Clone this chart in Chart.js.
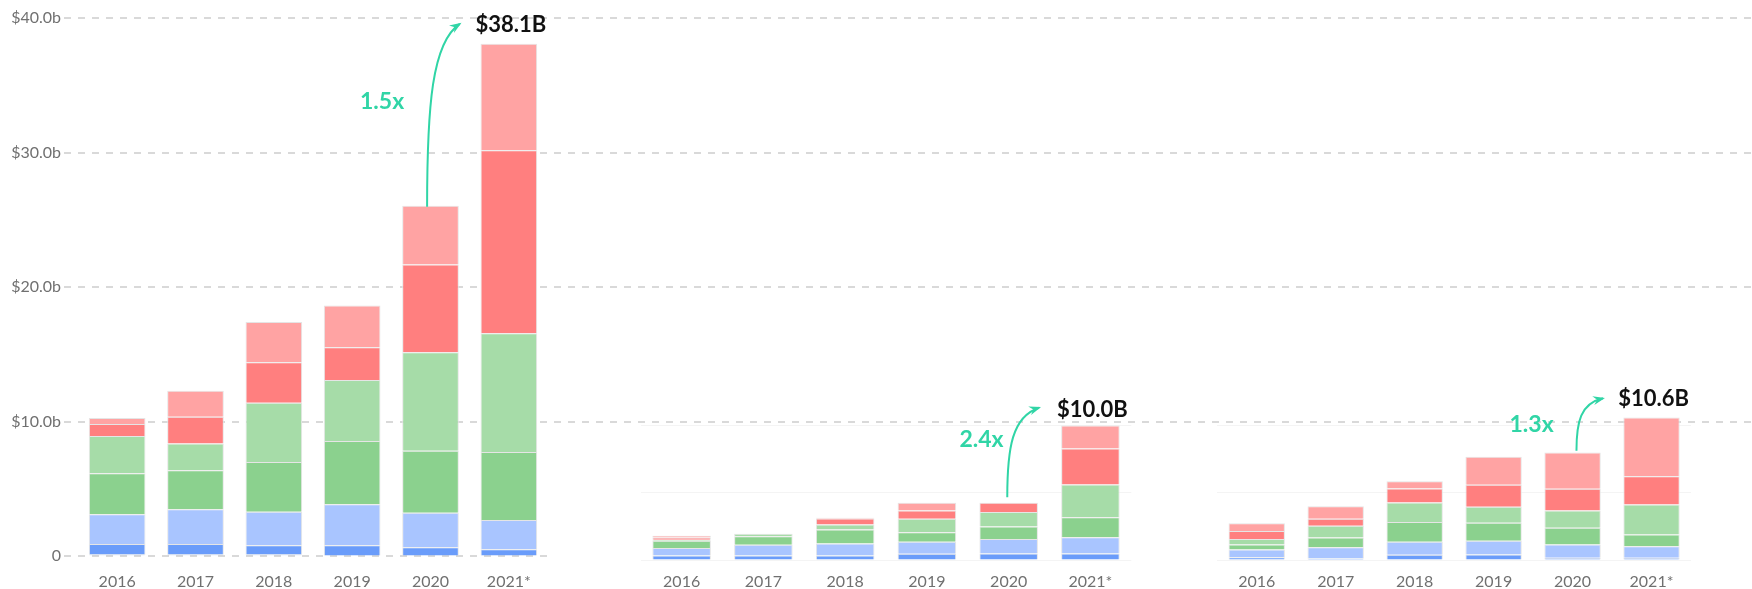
<!DOCTYPE html>
<html><head><meta charset="utf-8">
<script src="https://cdn.jsdelivr.net/npm/chart.js@4.4.0/dist/chart.umd.min.js"></script>
<style>
html,body{margin:0;padding:0;background:#fff;overflow:hidden;width:1752px;height:589px;}
#wrap{position:relative;width:1752px;height:589px;}
canvas{position:absolute;top:0;}
</style></head><body>
<div id="wrap">
<canvas id="cLeft" width="1752" height="589" style="left:0px"></canvas>
<canvas id="cMid" width="600" height="589" style="left:560px"></canvas>
<canvas id="cRight" width="592" height="589" style="left:1160px"></canvas>
</div>
<script>
// ---------- data ----------
const categories = ['2016', '2017', '2018', '2019', '2020', '2021*'];
const yTickValues = [0, 10, 20, 30, 40];
const yTickLabels = ['0', '$10.0b', '$20.0b', '$30.0b', '$40.0b'];
const totalLabels = ['$38.1B', '$10.0B', '$10.6B'];
const growthLabels = ['1.5x', '2.4x', '1.3x'];

// left panel (bottom -> top)
const left1 = [0.14, 0.14, 0.14, 0.05, 0.05, 0.05];
const left2 = [0.77, 0.77, 0.67, 0.76, 0.61, 0.46];
const left3 = [2.21, 2.58, 2.50, 3.05, 2.57, 2.18];
const left4 = [3.04, 2.90, 3.69, 4.71, 4.61, 5.06];
const left5 = [2.78, 2.00, 4.41, 4.53, 7.32, 8.82];
const left6 = [0.89, 1.98, 3.01, 2.43, 6.54, 13.61];
const left7 = [0.45, 1.93, 2.99, 3.12, 4.36, 7.92];

// middle panel
const mid1 = [0, 0, 0, 0, 0, 0];
const mid2 = [0.33, 0.33, 0.33, 0.46, 0.48, 0.48];
const mid3 = [0.57, 0.80, 0.90, 0.89, 1.08, 1.22];
const mid4 = [0.54, 0.64, 1.04, 0.72, 0.93, 1.48];
const mid5 = [0.07, 0.18, 0.37, 0.99, 1.08, 2.43];
const mid6 = [0.17, 0.00, 0.45, 0.62, 0.68, 2.68];
const mid7 = [0.13, 0.00, 0.05, 0.57, 0.00, 1.71];

// right panel
const right1 = [0, 0, 0, 0, 0, 0];
const right2 = [0.20, 0.11, 0.39, 0.41, 0.16, 0.16];
const right3 = [0.58, 0.84, 0.97, 1.02, 0.99, 0.87];
const right4 = [0.37, 0.72, 1.47, 1.34, 1.24, 0.87];
const right5 = [0.41, 0.87, 1.45, 1.19, 1.29, 2.23];
const right6 = [0.60, 0.52, 1.04, 1.63, 1.61, 2.10];
const right7 = [0.57, 0.94, 0.54, 2.08, 2.70, 4.37];

// ---------- styles ----------
const COLORS = ['#5d8ee8', '#6a9cfa', '#a9c5ff', '#8bd18e', '#a6dca8', '#ff7f7f', '#ffa3a3'];
const TEAL = '#30d5a6';
const GRID = '#d9d9d9';
const FONT = 'Lato, "Open Sans", sans-serif';

function makeDatasets(series, barPct) {
  return series.map((d, k) => ({
    data: d,
    backgroundColor: COLORS[k],
    borderColor: 'rgba(228,228,228,0.95)',
    borderWidth: 1,
    barPercentage: barPct,
    categoryPercentage: 1,
    clip: false
  }));
}
function totalsOf(series) {
  return categories.map((_, i) => series.reduce((s, a) => s + a[i], 0));
}

const extendGrid = {
  id: 'extendGrid',
  beforeDatasetsDraw(chart) {
    const { ctx, chartArea, scales: { y } } = chart;
    ctx.save();
    ctx.strokeStyle = GRID; ctx.lineWidth = 2; ctx.setLineDash([7, 7]);
    ctx.lineDashOffset = (chartArea.right - chartArea.left) % 14;
    y.ticks.forEach(t => {
      if (t.value <= 0) return;
      const py = Math.round(y.getPixelForValue(t.value));
      ctx.beginPath(); ctx.moveTo(chartArea.right, py); ctx.lineTo(chart.width, py); ctx.stroke();
    });
    ctx.restore();
  }
};

const growthNote = {
  id: 'growthNote',
  afterDatasetsDraw(chart, args, o) {
    if (!o || !o.totals) return;
    const { ctx, scales: { x, y } } = chart;
    const n = o.totals.length;
    const x0 = x.getPixelForValue(n - 2), y0 = y.getPixelForValue(o.totals[n - 2]);
    const x1 = x.getPixelForValue(n - 1), y1 = y.getPixelForValue(o.totals[n - 1]);
    ctx.save();
    // total label
    ctx.font = 'bold 22px ' + FONT; ctx.fillStyle = '#111';
    ctx.textAlign = 'center'; ctx.textBaseline = 'middle';
    ctx.fillText(o.totalLabel, x1 + 2, y1 - o.totalDy);
    // growth label
    ctx.font = 'bold 23px ' + FONT; ctx.fillStyle = TEAL;
    ctx.fillText(o.growthLabel, x0 + o.labelDx, y1 + o.labelDy);
    // arrow
    const sx = x0 + o.start[0], sy = y0 + o.start[1];
    const ex = x1 + o.end[0], ey = y1 + o.end[1];
    const H = sy - ey, W = ex - sx;
    const c1x = sx, c1y = sy - 0.55 * H;
    const c2x = sx + 0.15 * W, c2y = ey + 0.1 * H;
    ctx.strokeStyle = TEAL; ctx.lineWidth = 2;
    ctx.beginPath(); ctx.moveTo(sx, sy);
    ctx.bezierCurveTo(c1x, c1y, c2x, c2y, ex, ey);
    ctx.stroke();
    const ang = Math.atan2(ey - c2y, ex - c2x);
    const L = 10, hw = 4.5;
    ctx.fillStyle = TEAL;
    ctx.beginPath();
    ctx.moveTo(ex + Math.cos(ang) * 2, ey + Math.sin(ang) * 2);
    ctx.lineTo(ex - Math.cos(ang) * L + Math.sin(ang) * hw, ey - Math.sin(ang) * L - Math.cos(ang) * hw);
    ctx.lineTo(ex - Math.cos(ang) * L * 0.6, ey - Math.sin(ang) * L * 0.6);
    ctx.lineTo(ex - Math.cos(ang) * L - Math.sin(ang) * hw, ey - Math.sin(ang) * L + Math.cos(ang) * hw);
    ctx.closePath(); ctx.fill();
    ctx.restore();
  }
};

const xTickFont = { family: FONT, size: 16, lineHeight: 1.2 };
const TICK_COLOR = '#707070';

// ---------- left chart ----------
const leftSeries = [left1, left2, left3, left4, left5, left6, left7];
new Chart(document.getElementById('cLeft'), {
  type: 'bar',
  data: { labels: categories, datasets: makeDatasets(leftSeries, 0.723) },
  plugins: [extendGrid, growthNote],
  options: {
    responsive: false, animation: false, devicePixelRatio: 1,
    layout: { padding: { left: 0, right: 1204, top: 18.3, bottom: 0 } },
    plugins: {
      legend: { display: false }, tooltip: { enabled: false },
      growthNote: { totals: totalsOf(leftSeries), totalLabel: totalLabels[0], growthLabel: growthLabels[0],
        totalDy: 19, labelDx: -48.4, labelDy: 57.5, start: [-3.4, 1], end: [-49, -20] }
    },
    scales: {
      x: {
        stacked: true,
        grid: { display: false, drawTicks: false },
        border: { display: false },
        ticks: { color: TICK_COLOR, font: xTickFont, padding: 16.2, maxRotation: 0 },
        afterFit: s => { s.height = 32.8; }
      },
      y: {
        stacked: true, min: 0, max: 40,
        afterBuildTicks: s => { s.ticks = yTickValues.map(v => ({ value: v })); },
        grid: { color: GRID, lineWidth: 2, tickLength: 14, tickColor: GRID, tickBorderDash: [7, 7], drawTicks: true },
        border: { display: false, dash: [7, 7] },
        ticks: { color: TICK_COLOR, font: { family: FONT, size: 16 }, padding: 3,
          callback: (v) => { const i = yTickValues.indexOf(v); return i >= 0 ? yTickLabels[i] : ''; } },
        afterFit: s => { s.width = 78; }
      }
    }
  }
});
// dashed grid lines for the left chart
Chart.getChart('cLeft').options.scales.y.grid.borderDash = [7, 7];
Chart.getChart('cLeft').options.scales.y.border.dash = [7, 7];
Chart.getChart('cLeft').update('none');

// ---------- small panels ----------
function smallPanel(id, series, pad, barPct, idx, note) {
  new Chart(document.getElementById(id), {
    type: 'bar',
    data: { labels: categories, datasets: makeDatasets(series, barPct) },
    plugins: [growthNote],
    options: {
      responsive: false, animation: false, devicePixelRatio: 1,
      layout: { padding: { left: pad[0], right: pad[1], top: 425.5, bottom: 0 } },
      plugins: {
        legend: { display: false }, tooltip: { enabled: false },
        growthNote: Object.assign({ totals: totalsOf(series), totalLabel: totalLabels[idx], growthLabel: growthLabels[idx] }, note)
      },
      scales: {
        x: {
          stacked: true,
          grid: { display: false, drawTicks: false },
          border: { display: false },
          ticks: { color: TICK_COLOR, font: xTickFont, padding: 12.4, maxRotation: 0 },
          afterFit: s => { s.height = 29; }
        },
        y: {
          stacked: true, min: 0, max: 10,
          ticks: { display: false, stepSize: 5 },
          grid: { color: '#f4f4f4', lineWidth: 1, drawTicks: false },
          border: { display: false },
          afterFit: s => { s.width = 0; }
        }
      }
    }
  });
}
smallPanel('cMid', [mid1, mid2, mid3, mid4, mid5, mid6, mid7], [80.75, 28.7], 0.716, 1,
  { totalDy: 15.5, labelDx: -27.2, labelDy: 14.5, start: [-1.4, -5.5], end: [-51.3, -17.8] });
smallPanel('cRight', [right1, right2, right3, right4, right5, right6, right7], [57.25, 61], 0.714, 2,
  { totalDy: 19, labelDx: -41, labelDy: 7.6, start: [3.9, -1.8], end: [-48.5, -19.1] });
</script>
</body></html>
